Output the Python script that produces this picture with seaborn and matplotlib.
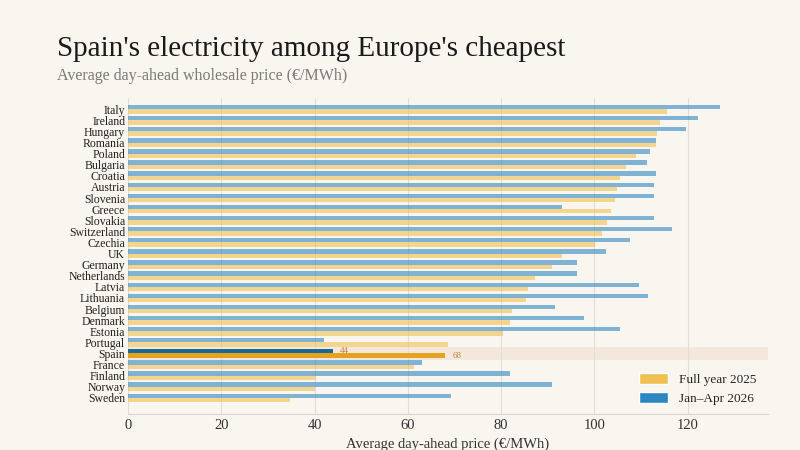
import pandas as pd
import matplotlib.pyplot as plt
import seaborn as sns
from matplotlib.patches import Patch

countries = ["Italy", "Ireland", "Hungary", "Romania", "Poland", "Bulgaria", "Croatia",
             "Austria", "Slovenia", "Greece", "Slovakia", "Switzerland", "Czechia", "UK",
             "Germany", "Netherlands", "Latvia", "Lithuania", "Belgium", "Denmark",
             "Estonia", "Portugal", "Spain", "France", "Finland", "Norway", "Sweden"]
full_2025 = [115.6, 114.0, 113.5, 113.2, 108.9, 106.8, 105.5, 104.9, 104.5, 103.5,
             102.6, 101.7, 100.1, 93.0, 90.8, 87.2, 85.7, 85.3, 82.3, 81.8, 80.3,
             68.5, 68.0, 61.3, 40.4, 40.1, 34.7]
jan_apr_2026 = [126.9, 122.3, 119.7, 113.2, 111.8, 111.2, 113.1, 112.8, 112.7, 93.1,
                112.8, 116.7, 107.6, 102.4, 96.3, 96.2, 109.5, 111.4, 91.5, 97.7, 105.4,
                42.0, 44.0, 63.1, 81.9, 90.8, 69.2]
series = ["Jan–Apr 2026", "Full year 2025"]

bg = "#f9f6f0"
blue, yellow = "#2e86c1", "#f0c050"
blue_hi, yellow_hi = "#1b6797", "#e3a21f"
serif = ["Liberation Serif", "DejaVu Serif"]

df = pd.DataFrame({
    "country": countries * 2,
    "price": jan_apr_2026 + full_2025,
    "period": [series[0]] * len(countries) + [series[1]] * len(countries),
})

sns.set_style("white")
plt.rcParams["font.family"] = serif

fig = plt.figure(figsize=(8, 4.5), dpi=100, facecolor=bg)
ax = fig.add_axes([0.16, 0.08, 0.80, 0.702])
ax.set_facecolor(bg)

sns.barplot(data=df, x="price", y="country", hue="period", hue_order=series,
            palette=[blue, yellow], order=countries, width=0.78, orient="h",
            saturation=1, legend=False, ax=ax)

spain = countries.index("Spain")
for cont, hi in zip(ax.containers, [blue_hi, yellow_hi]):
    for i, p in enumerate(cont.patches):
        p.set_edgecolor("none")
        if i == spain:
            p.set_facecolor(hi)
            p.set_alpha(1)
        else:
            p.set_alpha(0.6)

ax.axhspan(spain - 0.55, spain + 0.55, color="#f3e2d3", alpha=0.7, zorder=0, lw=0)
for cont, val in zip(ax.containers, [jan_apr_2026[spain], full_2025[spain]]):
    p = cont.patches[spain]
    ax.text(val + 1.5, p.get_y() + p.get_height() / 2, f"{val:.0f}",
            color="#c8803a", fontsize=6.5, va="center", ha="left")

ax.set_xlim(0, 137.2)
ax.set_ylim(27.45, -1.0)
ax.set_xticks([0, 20, 40, 60, 80, 100, 120])
ax.grid(axis="x", color="#e2ddd5", lw=0.8)
ax.set_axisbelow(True)
for s in ["top", "right", "left"]:
    ax.spines[s].set_visible(False)
ax.spines["bottom"].set_color("#d9d4cc")
ax.tick_params(axis="y", length=0, labelsize=8.5, pad=2, labelcolor="#222222")
ax.tick_params(axis="x", length=0, labelsize=10.5, labelcolor="#333333")
ax.set_ylabel("")
ax.set_xlabel("Average day-ahead price (€/MWh)", fontsize=10.5, color="#333333", labelpad=4)

handles = [Patch(facecolor=yellow, label=series[1]), Patch(facecolor=blue, label=series[0])]
ax.legend(handles=handles, loc="lower right", bbox_to_anchor=(1.0, -0.01), frameon=False,
          fontsize=9.5, handlelength=2.2, handleheight=0.9, labelspacing=0.45)

fig.text(0.071, 0.875, "Spain's electricity among Europe's cheapest", fontsize=21,
         color="#1a1a1a", ha="left", va="baseline")
fig.text(0.071, 0.822, "Average day-ahead wholesale price (€/MWh)", fontsize=11.5,
         color="#7a7a7a", ha="left", va="baseline")

fig.savefig("out.png", dpi=100, facecolor=bg)
